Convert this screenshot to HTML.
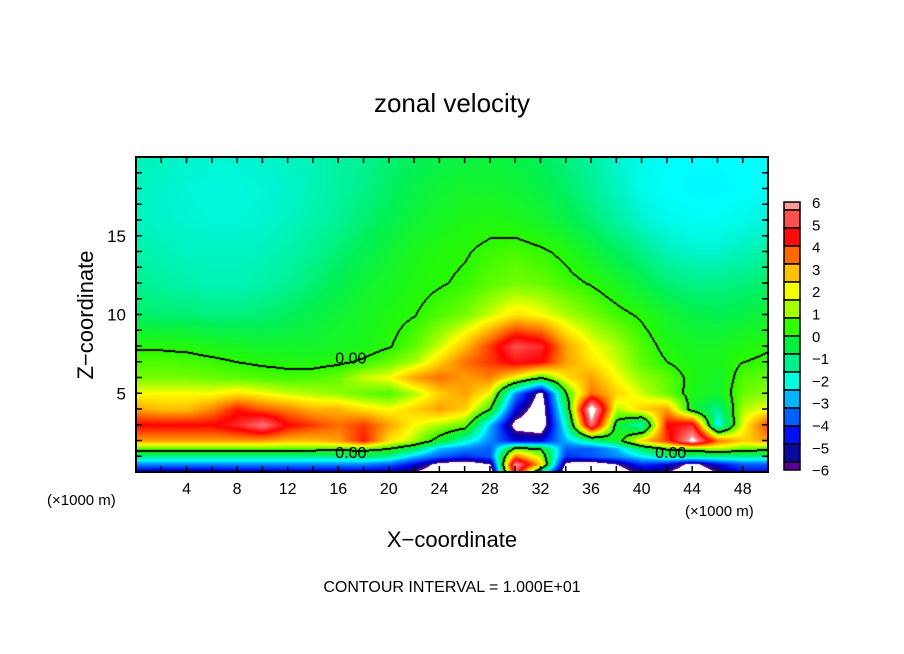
<!DOCTYPE html>
<html><head><meta charset="utf-8"><style>
body{margin:0;background:#fff;width:904px;height:654px;overflow:hidden;font-family:"Liberation Sans",sans-serif}
svg{position:absolute;left:0;top:0}
canvas{position:absolute;left:136px;top:157px}
</style></head><body>
<canvas id="cv" width="632" height="315"></canvas>
<svg id="sv" width="904" height="654">
<text x="452" y="112" font-size="26" text-anchor="middle">zonal velocity</text>
<text transform="translate(93,315) rotate(-90)" font-size="22" text-anchor="middle">Z−coordinate</text>
<text x="452" y="547" font-size="22" text-anchor="middle">X−coordinate</text>
<text x="47" y="505" font-size="15">(×1000 m)</text>
<text x="685" y="516" font-size="15">(×1000 m)</text>
<text x="452" y="592" font-size="16" text-anchor="middle">CONTOUR INTERVAL = 1.000E+01</text>
<g id="ticks"></g>
<g id="cbar"></g>
<rect x="136" y="157" width="632" height="315" fill="none" stroke="#000" stroke-width="2"/>
</svg>
<script>
const xCols=[0,2,4,6,8,10,12,14,16,18,20,22,24,26,28,30,32,34,36,38,40,42,44,46,48,50];
const zRows=[0,0.5,1,1.5,2,3,4,5,6,7,8,10,12,14,16,18,20];
const r0=[-5.5,-5.8,-5.8,-5.8,-5.5,-5.5,-5.5,-5.5,-5.5,-5.5,-5.5,-6,-7,-7.5,-7,5,-2,-7,-7.5,-7,-5.5,-6,-7,-6,-5,-5];
const r05=[-3.5,-3.5,-3.5,-3.5,-3.5,-3.5,-3.5,-3.5,-3.5,-3.5,-4,-5,-6.5,-7,-6,6,2,-6.5,-7,-6,-4.5,-5,-6.5,-5,-4,-4];
const r1=[-1.5,-1.5,-1.5,-1.5,-1.5,-1.5,-1.5,-1.5,-1.5,-1.2,-1.5,-3,-4,-4.5,-4,3,1,-4.5,-4,-3.5,-2.5,-1.5,-1.5,-1.5,-1.5,-1.5];
const r15=[0.4,0.4,0.4,0.4,0.4,0.4,0.4,0.4,0.3,0.4,0,-1,-3,-3.5,-4,0.5,0,-4,-4,-3,-1,0.2,0.5,1,0.5,0.3];
const r2=[2.5,2.5,2.5,2.5,2.5,2.5,2.2,2.2,2.5,3.8,1.8,1,-0.5,-2,-3.5,-5,-5,-3,-1.5,-0.5,2,3.5,6.5,3,2,2.5];
const r3=[4,4,4,4,4.5,5.5,4,3.5,3,3.5,2.5,1.5,1,0.5,-3,-6.5,-7,-2,5.5,-0.5,-2,4,4.5,-2.5,1.5,3.5];
const r4=[2.5,2.2,2.2,2.8,3.8,3.2,2.8,2.3,2.3,1.8,1.5,2,2.5,2,0,-5,-7,-1,7,1,2,2.5,-0.5,-1.5,1,1.5];
const r5=[1.5,1.5,1.5,1.5,1.8,1.5,1.2,1,0.8,0.5,0.3,1,2,2.5,1.5,-3.5,-6.5,0,3,2,1.2,0.5,-0.3,-0.5,0.5,0.8];
const r6=[0.6,0.6,0.6,0.5,0.4,0.3,0.2,0.3,0.5,1.2,1.5,2.5,3,2.5,2.8,1.5,0,1.8,2.5,1.5,0.8,0.4,-0.2,-0.5,0.3,0.5];
const r7=[0.3,0.3,0.25,0.15,0,-0.1,-0.15,-0.2,-0.1,0.1,0.5,1,2,3,3.5,4.2,4,2.5,1.8,1.2,0.4,0,-0.3,-0.3,0,0.1];
const r8=[-0.1,-0.1,-0.15,-0.3,-0.4,-0.5,-0.5,-0.5,-0.4,-0.3,-0.05,0.4,1.2,2.2,3.5,5,4.5,2.5,1.5,1,0.3,-0.2,-0.4,-0.4,-0.2,-0.05];
const r10=[-1.1,-1.2,-1.2,-1.3,-1.3,-1.2,-1,-0.8,-0.6,-0.4,-0.2,-0.02,0.3,0.6,1.2,1.8,1.5,1,0.6,0.2,-0.1,-0.5,-0.8,-0.9,-0.8,-0.6];
const r12=[-1.5,-1.6,-1.7,-1.8,-1.8,-1.7,-1.5,-1.2,-0.9,-0.6,-0.4,-0.2,-0.05,0.1,0.4,0.6,0.5,0.2,-0.05,-0.4,-0.8,-1.2,-1.4,-1.4,-1.3,-1.1];
const r14=[-1.7,-1.8,-1.9,-1.9,-1.9,-1.85,-1.7,-1.5,-1.2,-0.9,-0.6,-0.3,-0.15,-0.05,0.15,0.25,0.1,-0.15,-0.6,-1,-1.4,-1.8,-2,-2,-1.8,-1.6];
const r16=[-1.9,-2,-2.05,-2.1,-2.1,-2.05,-1.9,-1.7,-1.5,-1.2,-0.9,-0.6,-0.4,-0.25,-0.2,-0.3,-0.5,-0.8,-1.2,-1.6,-2,-2.3,-2.4,-2.4,-2.3,-2.1];
const r18=[-1.9,-2,-2.1,-2.15,-2.15,-2.1,-2,-1.8,-1.6,-1.4,-1.1,-0.8,-0.6,-0.5,-0.5,-0.6,-0.8,-1.1,-1.5,-1.9,-2.3,-2.5,-2.55,-2.55,-2.5,-2.4];
const r20=[-1.8,-1.9,-2,-2.05,-2.05,-2,-1.9,-1.8,-1.6,-1.5,-1.2,-1,-0.8,-0.7,-0.7,-0.8,-1,-1.3,-1.6,-2,-2.3,-2.45,-2.5,-2.5,-2.5,-2.45];
const field=[r0,r05,r1,r15,r2,r3,r4,r5,r6,r7,r8,r10,r12,r14,r16,r18,r20];
const xTicks=[4,8,12,16,20,24,28,32,36,40,44,48];
const yTicks=[5,10,15];
const cbLabels=["6","5","4","3","2","1","0","−1","−2","−3","−4","−5","−6"];

const X0=136,X1=768,Y0=472,Y1=157;
const sx=x=>X0+(x-0)/(50-0)*(X1-X0);
const sz=z=>Y0-(z-0)/(20-0)*(Y0-Y1);
function seg(a,v){for(let i=0;i<a.length-1;i++){if(v<=a[i+1])return [i,(v-a[i])/(a[i+1]-a[i])];}return [a.length-2,1];}
function val(x,z){const [i,tx]=seg(xCols,x);const [j,tz]=seg(zRows,z);
 const a=field[j][i],b=field[j][i+1],c=field[j+1][i],d=field[j+1][i+1];
 return (a*(1-tx)+b*tx)*(1-tz)+(c*(1-tx)+d*tx)*tz;}
const stops=[[-6,90,0,150],[-5.5,0,0,150],[-5,0,0,230],[-4,0,90,255],[-3,0,180,255],[-2.5,0,255,255],[-2,0,245,205],[-1,0,240,90],[0,40,250,0],[1,170,255,0],[1.5,255,255,0],[2,255,210,0],[3,255,110,0],[4,255,0,0],[5,255,80,80],[6,255,160,160]];
function col(v){if(v<-6||v>6)return [255,255,255];
 for(let i=0;i<stops.length-1;i++){if(v<=stops[i+1][0]){const t=(v-stops[i][0])/(stops[i+1][0]-stops[i][0]);const a=stops[i],b=stops[i+1];return [a[1]+(b[1]-a[1])*t,a[2]+(b[2]-a[2])*t,a[3]+(b[3]-a[3])*t];}}return [255,160,160];}
const cv=document.getElementById('cv'),ctx=cv.getContext('2d');
const W=632,H=315,img=ctx.createImageData(W,H);const F=new Float32Array(W*H);
for(let py=0;py<H;py++)for(let px=0;px<W;px++){F[py*W+px]=val(px/W*50,(H-py)/H*20);}
for(let py=0;py<H;py++)for(let px=0;px<W;px++){const v=F[py*W+px];let c=col(v);
 const s=v>=0;let edge=false;
 for(const [dx,dy] of [[1,0],[0,1],[-1,0],[0,-1]]){const qx=px+dx,qy=py+dy;if(qx>=0&&qy>=0&&qx<W&&qy<H){if((F[qy*W+qx]>=0)!==s){edge=true;}}}
 if(edge)c=[0,0,0];
 const k=(py*W+px)*4;img.data[k]=c[0];img.data[k+1]=c[1];img.data[k+2]=c[2];img.data[k+3]=255;}
ctx.putImageData(img,0,0);
const NS='http://www.w3.org/2000/svg';
const tg=document.getElementById('ticks');
function mk(t,attrs,p){const e=document.createElementNS(NS,t);for(const k in attrs)e.setAttribute(k,attrs[k]);p.appendChild(e);return e;}
for(let x=2;x<50;x+=2){const e=mk('line',{x1:sx(x),x2:sx(x),y1:Y0,y2:Y0-6,stroke:'#000','stroke-width':1.5},tg);


const e2=mk('line',{x1:sx(x),x2:sx(x),y1:Y1,y2:Y1+6,stroke:'#000','stroke-width':1.5},tg);

}
for(let z=1;z<20;z++){const e=mk('line',{x1:X0,x2:X0+6,y1:sz(z),y2:sz(z),stroke:'#000','stroke-width':1.5},tg);


const e2=mk('line',{x1:X1,x2:X1-6,y1:sz(z),y2:sz(z),stroke:'#000','stroke-width':1.5},tg);

}
xTicks.forEach(x=>{const t=mk('text',{x:sx(x),y:494,'font-size':16,'text-anchor':'middle'},tg);t.textContent=x;

});
yTicks.forEach(z=>{const t=mk('text',{x:126,y:sz(z)+6,'font-size':17,'text-anchor':'end'},tg);t.textContent=z;

});
[[17,6.9],[17,0.9],[42.3,0.9]].forEach(p=>{const t=mk('text',{x:sx(p[0]),y:sz(p[1]),'font-size':16,'text-anchor':'middle',fill:'#000'},tg);t.textContent='0.00';

});
const cb=document.getElementById('cbar');
const cbCols=['#ff9a9a','#ff5050','#ff0a0a','#ff6a00','#ffc000','#f5ff00','#a8ff00','#30ff00','#00f040','#00f090','#00ffe0','#00b4ff','#0060ff','#0010f0','#0a0aa0','#5a0096'];
let y=202;cbCols.forEach((c,i)=>{const h=(i===0||i===cbCols.length-1)?8:18;const r=mk('rect',{x:784,y:y,width:16,height:h,fill:c,stroke:'#000','stroke-width':1.5},cb);

y+=h;});
cbLabels.forEach((l,i)=>{const t=mk('text',{x:812,y:208+i*22.3,'font-size':15},cb);t.textContent=l;

});
</script>
</body></html>
